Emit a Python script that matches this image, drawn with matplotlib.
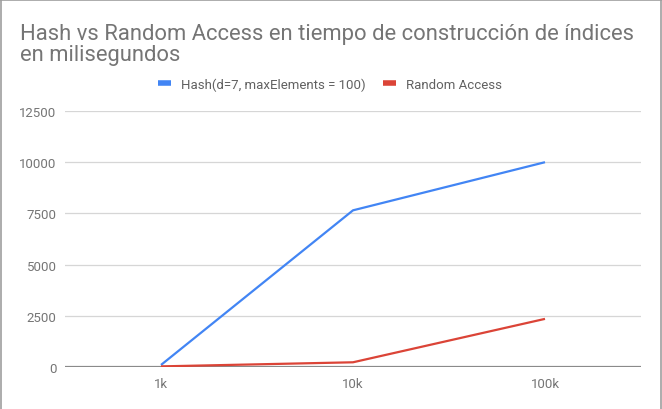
import matplotlib.pyplot as plt
from matplotlib.lines import Line2D

sizes = ['1k', '10k', '100k']
hash_ms = [100, 7650, 10000]
random_ms = [30, 230, 2350]
y_ticks = [0, 2500, 5000, 7500, 10000, 12500]

title = 'Hash vs Random Access en tiempo de construcción de índices\nen milisegundos'
labels = ['Hash(d=7, maxElements = 100)', 'Random Access']

plt.rcParams['font.family'] = ['Roboto', 'DejaVu Sans']

fig = plt.figure(figsize=(6.62, 4.10), dpi=100)
ax = fig.add_axes([65 / 662, 1 - 368 / 410, 576 / 662, 256 / 410])

x = range(len(sizes))
ax.plot(x, hash_ms, color='#4285F4', lw=1.6, label=labels[0], solid_capstyle='butt')
ax.plot(x, random_ms, color='#DB4437', lw=1.6, label=labels[1], solid_capstyle='butt')

ax.set_xlim(-0.5, 2.5)
ax.set_ylim(0, 12500)
ax.set_xticks(list(x))
ax.set_xticklabels(sizes)
ax.set_yticks(y_ticks)
ax.set_yticklabels([str(v) for v in y_ticks])
ax.tick_params(length=0, labelsize=9.5, colors='#757575')
ax.tick_params(axis='y', pad=6)
ax.tick_params(axis='x', pad=7)

for v in y_ticks[1:]:
    ax.axhline(v, color='#d6d6d6', lw=0.9, zorder=0)
ax.axhline(0, color='#8a8a8a', lw=1.6, zorder=1)
for s in ax.spines.values():
    s.set_visible(False)

fig.text(20 / 662, 1 - 24 / 410, title, fontsize=15.8, color='#757575',
         ha='left', va='top', linespacing=1.0)

handles = [Line2D([], [], color='#4285F4', lw=4, solid_capstyle='butt'),
           Line2D([], [], color='#DB4437', lw=4, solid_capstyle='butt')]
fig.legend(handles, labels, loc='center', bbox_to_anchor=(330 / 662, 1 - 85 / 410),
           ncol=2, frameon=False, fontsize=9.5, labelcolor='#616161',
           handlelength=1.0, handletextpad=0.75, columnspacing=1.3)

# border of the original screenshot
for xs, ys in [([0.5 / 662, 0.5 / 662], [0, 1]),
               ([0, 1], [1 - 0.5 / 410, 1 - 0.5 / 410]),
               ([660.5 / 662, 660.5 / 662], [0, 1])]:
    fig.add_artist(Line2D(xs, ys, color='#9e9e9e', lw=1.2))

fig.savefig('out.png', dpi=100)
